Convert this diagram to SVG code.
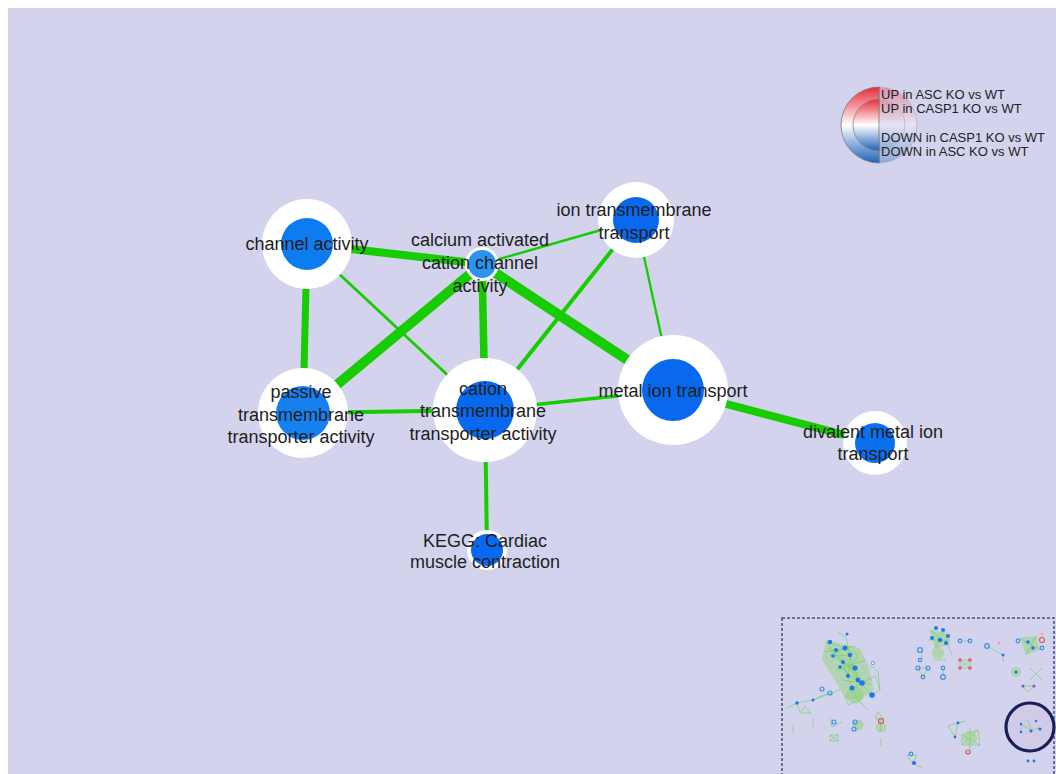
<svg xmlns="http://www.w3.org/2000/svg" width="1056" height="774" viewBox="0 0 1056 774">
<defs>
<style>
.lbl{font-family:"Liberation Sans",Arial,sans-serif;font-size:18px;fill:#1e1e1e;text-anchor:middle}
.leg{font-family:"Liberation Sans",Arial,sans-serif;font-size:13px;fill:#222}
.e{stroke:#17cc00;stroke-linecap:butt;fill:none}
.ring{fill:#ffffff}
.core{fill:#0868ee}
.mg{stroke:#6cd05a;stroke-width:0.6;fill:none}
.md{fill:#1a7be8}
.mr{fill:none;stroke:#3d8fe8;stroke-width:1.2}
.mrd{fill:none;stroke:#e8505a;stroke-width:1.2}
</style>
<linearGradient id="rb" x1="0" y1="0" x2="0" y2="1">
<stop offset="0" stop-color="#e82a3a"/>
<stop offset="0.5" stop-color="#ffffff"/>
<stop offset="1" stop-color="#1f62b8"/>
</linearGradient>
</defs>
<rect x="0" y="0" width="1056" height="774" fill="#ffffff"/>
<rect x="8" y="8" width="1048" height="766" fill="#d3d3ed"/>

<g id="connectors">
<line class="e" x1="307" y1="244" x2="482" y2="264" stroke-width="8"/>
<line class="e" x1="307" y1="244" x2="303" y2="413" stroke-width="7"/>
<line class="e" x1="307" y1="244" x2="485" y2="410" stroke-width="2.8"/>
<line class="e" x1="482" y1="264" x2="303" y2="413" stroke-width="10"/>
<line class="e" x1="482" y1="264" x2="485" y2="410" stroke-width="7.5"/>
<line class="e" x1="482" y1="264" x2="673" y2="390" stroke-width="10"/>
<line class="e" x1="482" y1="264" x2="636" y2="220" stroke-width="2.5"/>
<line class="e" x1="636" y1="220" x2="485" y2="410" stroke-width="4"/>
<line class="e" x1="636" y1="220" x2="673" y2="390" stroke-width="2.3"/>
<line class="e" x1="303" y1="413" x2="485" y2="410" stroke-width="4"/>
<line class="e" x1="485" y1="410" x2="673" y2="390" stroke-width="3.5"/>
<line class="e" x1="485" y1="410" x2="487" y2="550" stroke-width="4"/>
<line class="e" x1="673" y1="390" x2="875" y2="443" stroke-width="8"/>
</g>

<g id="node-channel-activity">
<circle class="ring" cx="307" cy="244" r="45"/>
<circle cx="307" cy="244" r="26" fill="#0d7cf0"/>
<text class="lbl" x="307" y="250">channel activity</text>
</g>
<g id="node-ion-transmembrane-transport">
<circle class="ring" cx="636" cy="220" r="38"/>
<circle class="core" cx="636" cy="220" r="23"/>
<text class="lbl" x="634" y="216">ion transmembrane</text>
<text class="lbl" x="634" y="239">transport</text>
</g>
<g id="node-passive">
<circle class="ring" cx="303" cy="413" r="45"/>
<circle cx="303" cy="413" r="27" fill="#1580f0"/>
<text class="lbl" x="301" y="398">passive</text>
<text class="lbl" x="301" y="421">transmembrane</text>
<text class="lbl" x="301" y="443">transporter activity</text>
</g>
<g id="node-cation-transmembrane">
<circle class="ring" cx="485" cy="410" r="52"/>
<circle class="core" cx="485" cy="410" r="29"/>
<text class="lbl" x="483" y="395">cation</text>
<text class="lbl" x="483" y="417">transmembrane</text>
<text class="lbl" x="483" y="440">transporter activity</text>
</g>
<g id="node-metal-ion-transport">
<circle class="ring" cx="673" cy="390" r="55"/>
<circle class="core" cx="673" cy="390" r="31"/>
<text class="lbl" x="673" y="397">metal ion transport</text>
</g>
<g id="node-divalent">
<circle class="ring" cx="875" cy="443" r="32"/>
<circle cx="875" cy="443" r="20" fill="#0a70f0"/>
<text class="lbl" x="873" y="438">divalent metal ion</text>
<text class="lbl" x="873" y="460">transport</text>
</g>
<g id="node-kegg">
<circle class="ring" cx="487" cy="550" r="20"/>
<circle class="core" cx="487" cy="550" r="16"/>
<text class="lbl" x="485" y="547">KEGG: Cardiac</text>
<text class="lbl" x="485" y="568">muscle contraction</text>
</g>
<g id="node-calcium">
<circle class="ring" cx="482" cy="264" r="17"/>
<circle cx="482" cy="264" r="14" fill="#2a94f0"/>
<text class="lbl" x="480" y="246">calcium activated</text>
<text class="lbl" x="480" y="269">cation channel</text>
<text class="lbl" x="480" y="292">activity</text>
</g>

<g id="legend">
<circle cx="879" cy="125" r="38" fill="url(#rb)" stroke="#777" stroke-width="0.8"/>
<circle cx="879" cy="125" r="26" fill="url(#rb)" stroke="#888" stroke-width="0.8"/>
<rect x="879.5" y="85" width="42" height="80" fill="#d3d3ed" opacity="0.62"/>
<line x1="879" y1="87" x2="879" y2="163" stroke="#777" stroke-width="0.8"/>
<text class="leg" x="881" y="99">UP in ASC KO vs WT</text>
<text class="leg" x="881" y="113">UP in CASP1 KO vs WT</text>
<text class="leg" x="881" y="142">DOWN in CASP1 KO vs WT</text>
<text class="leg" x="881" y="156">DOWN in ASC KO vs WT</text>
</g>

<g id="overview">
<rect x="782" y="618" width="272" height="162" fill="none" stroke="#44507e" stroke-width="1.5" stroke-dasharray="3,2"/>
<path d="M826,640 L860,648 L868,665 L874,690 L860,700 L845,698 L835,680 L822,660 Z" fill="#93d47e" opacity="0.5"/>
<g class="mg">
<path d="M826,642 L845,648 L858,655 L850,668 L862,683 L848,676 L840,660 L830,655 L845,648 M836,650 L855,668 L858,680 L872,695 M843,662 L862,683 L852,688 L843,662 M833,656 L850,655 L848,676 M826,642 L843,662 L855,668 L845,648 M840,667 L858,680 M852,688 L858,700 L848,705 L845,695 M858,700 L868,710 M862,683 L875,676 L880,690 L872,695 M870,665 L878,672 L880,690 M846,638 L850,655 M838,632 L846,638 M828,648 L860,676 M836,670 L866,660 M824,652 L856,646 M842,680 L870,684"/>
<path d="M840,690 L813,700 L797,703 L787,708 M805,706 L800,713 L811,713 Z M797,703 L800,713 M813,700 L828,693 M830,717 L832,727 L842,722 M830,735 L838,735 L838,741 L830,741 Z M830,735 L838,741 M838,735 L830,741 M793,725 L793,733 M813,718 L813,727"/>
<circle cx="855" cy="695" r="8" fill="#93d47e" opacity="0.6"/>
<circle cx="858" cy="725" r="5" fill="#93d47e" opacity="0.6"/>
<circle cx="881" cy="727" r="5" fill="#93d47e" opacity="0.5"/>
<path d="M878,712 L884,720 L875,718 Z M881,720 L880,732 M881,738 L881,746"/>
</g>
<g>
<circle class="md" cx="830" cy="642" r="2.2"/><circle class="md" cx="836" cy="650" r="2"/>
<circle class="md" cx="845" cy="648" r="2.5"/><circle class="md" cx="850" cy="655" r="2.2"/>
<circle class="md" cx="843" cy="662" r="2"/><circle class="md" cx="855" cy="668" r="2.6"/>
<circle class="md" cx="848" cy="676" r="2"/><circle class="md" cx="858" cy="680" r="2.4"/>
<circle class="md" cx="852" cy="688" r="2.5"/><circle class="md" cx="862" cy="683" r="2.8"/>
<circle class="md" cx="872" cy="695" r="2.8"/><circle class="md" cx="840" cy="667" r="1.8"/>
<circle class="md" cx="833" cy="656" r="1.8"/><circle class="md" cx="847" cy="634" r="1.5"/>
<circle class="md" cx="797" cy="703" r="1.8"/><circle class="md" cx="813" cy="700" r="1.5"/>
<circle class="mr" cx="822" cy="689" r="2"/><circle class="mr" cx="830" cy="693" r="2"/>
<circle class="mr" cx="834" cy="722" r="2"/><circle class="mr" cx="855" cy="722" r="2"/>
<circle class="mr" cx="854" cy="729" r="2"/>
<circle class="mrd" cx="881" cy="721" r="2.5"/>
<circle cx="873" cy="663" r="1.6" fill="#ffffff" stroke="#3d8fe8" stroke-width="0.8"/>
</g>
<path d="M930,630 L948,633 L950,645 L935,648 Z" fill="#93d47e" opacity="0.55"/>
<circle cx="938" cy="653" r="6" fill="#93d47e" opacity="0.55"/>
<g class="mg"><path d="M930,630 L948,645 M935,648 L945,630 M928,640 L950,640 M934,660 L946,660 M948,645 L952,655 M922,650 L922,660 M918,668 L928,668 L923,677 Z M943,668 L943,676 M963,641 L970,641 M960,660 L970,660 L970,668 L960,668 Z M960,660 L970,668 M970,660 L960,668 M987,646 L1003,655 M1003,655 L1003,662"/></g>
<circle class="md" cx="936" cy="628" r="2"/><circle class="md" cx="943" cy="630" r="2"/>
<circle class="md" cx="948" cy="636" r="2"/><circle class="md" cx="932" cy="638" r="2"/>
<circle class="md" cx="946" cy="643" r="2"/><circle class="md" cx="940" cy="640" r="2.2"/>
<circle class="mr" cx="920" cy="650" r="2.4"/><circle class="mr" cx="920" cy="660" r="1.6"/>
<circle class="mr" cx="918" cy="668" r="2"/><circle class="mr" cx="928" cy="668" r="2"/><circle class="mr" cx="923" cy="677" r="1.8"/>
<circle class="mr" cx="943" cy="668" r="1.8"/><circle class="mr" cx="943" cy="677" r="2.4"/>
<circle class="mr" cx="960" cy="641" r="1.8"/><circle class="mr" cx="970" cy="641" r="1.8"/>
<circle class="mrd" cx="960" cy="660" r="1.2"/><circle class="mrd" cx="970" cy="660" r="1.2"/>
<circle class="mrd" cx="960" cy="668" r="1.2"/><circle class="mrd" cx="970" cy="668" r="1.2"/>
<circle class="mr" cx="987" cy="646" r="2.3"/><circle class="md" cx="1003" cy="655" r="1.5"/>
<circle cx="999" cy="643" r="1.5" fill="#f0a0a8"/>
<path d="M1020,638 L1036,636 L1040,650 L1026,655 Z" fill="#93d47e" opacity="0.55"/>
<circle cx="1016" cy="672" r="5" fill="#93d47e" opacity="0.6"/>
<g class="mg"><path d="M1020,638 L1040,650 M1036,636 L1026,655 M1030,668 L1042,680 M1030,680 L1042,668 M1022,686 L1034,686 L1028,692 Z"/></g>
<circle class="md" cx="1028" cy="642" r="1.8"/><circle class="md" cx="1033" cy="648" r="1.8"/>
<circle class="mrd" cx="1042" cy="640" r="2.5"/><circle cx="1042" cy="634" r="1.3" fill="#f0a0a8"/>
<circle class="mr" cx="1018" cy="641" r="1.8"/><circle class="mr" cx="1042" cy="648" r="1.8"/>
<circle class="md" cx="1016" cy="672" r="1.6"/>
<circle cx="1023" cy="686" r="1.6" fill="#8a5aa8"/><circle cx="1034" cy="686" r="1.6" fill="#8a5aa8"/>
<g class="mg"><path d="M948,726 L955,737 L958,723 Z M958,723 L965,721 M962,735 L978,730 L980,745 L962,745 Z M962,735 L980,745 M962,745 L978,730 M970,728 L970,752 M907,755 L912,763 L917,755 Z M912,763 L922,768"/></g>
<circle cx="970" cy="738" r="7" fill="#93d47e" opacity="0.55"/>
<circle class="md" cx="955" cy="737" r="1.4"/><circle class="md" cx="958" cy="723" r="1.4"/>
<circle class="mrd" cx="968" cy="752" r="2"/>
<circle class="mr" cx="911" cy="754" r="1.8"/><circle class="md" cx="914" cy="763" r="2"/>
<circle class="md" cx="1028" cy="761" r="1.4"/><circle class="md" cx="1034" cy="761" r="1.4"/>
<circle cx="1030" cy="727" r="24" fill="#d2cbe8" stroke="#1a1f5c" stroke-width="3.2"/>
<g class="mg"><path d="M1021,724 L1031,730 L1040,728 M1028,720 L1031,730 M1021,724 L1021,732"/></g>
<circle class="md" cx="1021" cy="724" r="1.3"/><circle class="md" cx="1031" cy="731" r="1.6"/>
<circle class="md" cx="1040" cy="729" r="1.6"/><circle class="md" cx="1021" cy="732" r="1.3"/>
<circle class="md" cx="1036" cy="721" r="1.3"/>
</g>
</svg>
